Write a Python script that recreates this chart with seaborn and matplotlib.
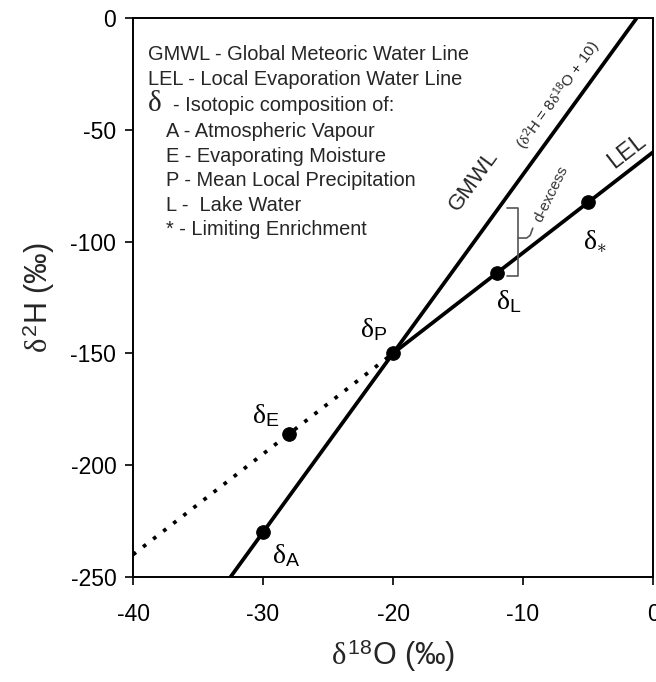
import matplotlib
matplotlib.use("Agg")
import matplotlib.pyplot as plt
import seaborn as sns
import numpy as np

# ---- data ----
o18_points = [-30, -28, -20, -12, -5]
h2_points = [-230, -186, -150, -114, -82.5]
point_names = ["A", "E", "P", "L", "*"]
label_dx = [1.8, -1.8, -1.5, 0.9, 0.5]
label_dy = [-10.5, 8.0, 10.5, -13.0, -17.5]

gmwl_x = [-32.5, -1.25]
gmwl_y = [-250, 0]
lel_x = [-20, 0]
lel_y = [-150, -60]
lel_dot_x = [-40, -20]
lel_dot_y = [-240, -150]

legend_lines = [
    "GMWL - Global Meteoric Water Line",
    "LEL - Local Evaporation Water Line",
    None,
    "A - Atmospheric Vapour",
    "E - Evaporating Moisture",
    "P - Mean Local Precipitation",
    "L -  Lake Water",
    "* - Limiting Enrichment",
]
legend_y = [-18.8, -30.0, -41.6, -53.2, -64.4, -75.1, -86.3, -97.0]

bracket_x = [-11.23, -10.38, -10.38, -11.23]
bracket_y = [-85.0, -85.0, -115.4, -115.4]
branch_x = [-10.38, -9.72, -9.45, -9.25]
branch_y = [-98.4, -98.4, -97.2, -94.0]

xticks = [-40, -30, -20, -10, 0]
yticks = [0, -50, -100, -150, -200, -250]

# ---- style ----
sns.set_theme(style="ticks")
plt.rcParams["font.family"] = ["Liberation Sans", "DejaVu Sans"]
plt.rcParams["mathtext.fontset"] = "custom"
plt.rcParams["mathtext.rm"] = "Liberation Serif"
plt.rcParams["mathtext.it"] = "Liberation Serif"
plt.rcParams["mathtext.sf"] = "Liberation Sans"
plt.rcParams["axes.unicode_minus"] = False

fig = plt.figure(figsize=(6.56, 6.82), dpi=100)
ax = fig.add_axes([133 / 656, 105 / 682, 520 / 656, 559 / 682])

sns.lineplot(x=gmwl_x, y=gmwl_y, ax=ax, color="black", lw=2.7, sort=False)
sns.lineplot(x=lel_x, y=lel_y, ax=ax, color="black", lw=2.7, sort=False)
sns.lineplot(x=lel_dot_x, y=lel_dot_y, ax=ax, color="black", lw=2.7, sort=False,
             linestyle=(0, (1, 2.4)))
sns.scatterplot(x=o18_points, y=h2_points, ax=ax, color="black", s=95,
                edgecolor="black", zorder=5, legend=False)

for x, y, n, dx, dy in zip(o18_points, h2_points, point_names, label_dx, label_dy):
    sub = r"\ast" if n == "*" else r"\mathsf{%s}" % n
    ax.text(x + dx, y + dy, r"$\delta_{%s}$" % sub,
            fontsize=20, ha="center", va="center", color="black")

# legend text block
for txt, y in zip(legend_lines, legend_y):
    if txt is None:
        ax.text(-38.85, y, "δ", family="Liberation Serif", fontsize=21,
                va="baseline", ha="left")
        ax.text(-36.95, y, "- Isotopic composition of:", fontsize=14.4,
                va="baseline", ha="left")
    elif txt.startswith("GMWL") or txt.startswith("LEL"):
        ax.text(-38.85, y, txt, fontsize=14.4, va="baseline", ha="left")
    else:
        ax.text(-37.46, y, txt, fontsize=14.4, va="baseline", ha="left")

# line labels
ax.text(-13.8, -73.0, "GMWL", fontsize=16, rotation=54, ha="center", va="center",
        rotation_mode="anchor")
ax.text(-7.3, -34.5, r"($\delta^{\mathsf{2}}$H = 8$\delta^{\mathsf{18}}$O + 10)",
        fontsize=11, rotation=54, ha="center", va="center", rotation_mode="anchor")
ax.text(-2.0, -59.5, "LEL", fontsize=17, rotation=37.7, ha="center", va="center",
        rotation_mode="anchor")

# d-excess bracket
ax.plot(bracket_x, bracket_y, color="#555555", lw=1.2)
ax.plot(branch_x, branch_y, color="#555555", lw=1.2)
ax.text(-7.85, -78.5, "d-excess", fontsize=11, color="#333333", rotation=64,
        ha="center", va="center", rotation_mode="anchor")

ax.set_xlim(-40, 0)
ax.set_ylim(-250, 0)
ax.set_xticks(xticks)
ax.set_yticks(yticks)
ax.set_xticklabels([str(t) for t in xticks])
ax.set_yticklabels([str(t) for t in yticks])
ax.tick_params(axis="both", direction="out", length=6, width=1.2, labelsize=16.5,
               colors="black")
ax.tick_params(axis="x", pad=13)
ax.tick_params(axis="y", pad=6)
for s in ax.spines.values():
    s.set_visible(True)
    s.set_color("black")
    s.set_linewidth(1.4)

ax.set_xlabel(r"$\delta^{\mathsf{18}}$O (‰)", fontsize=22, labelpad=8)
ax.set_ylabel(r"$\delta^{\mathsf{2}}$H (‰)", fontsize=22, labelpad=10)
ax.set_facecolor("white")
fig.patch.set_facecolor("white")

fig.savefig("out.png", dpi=100)
